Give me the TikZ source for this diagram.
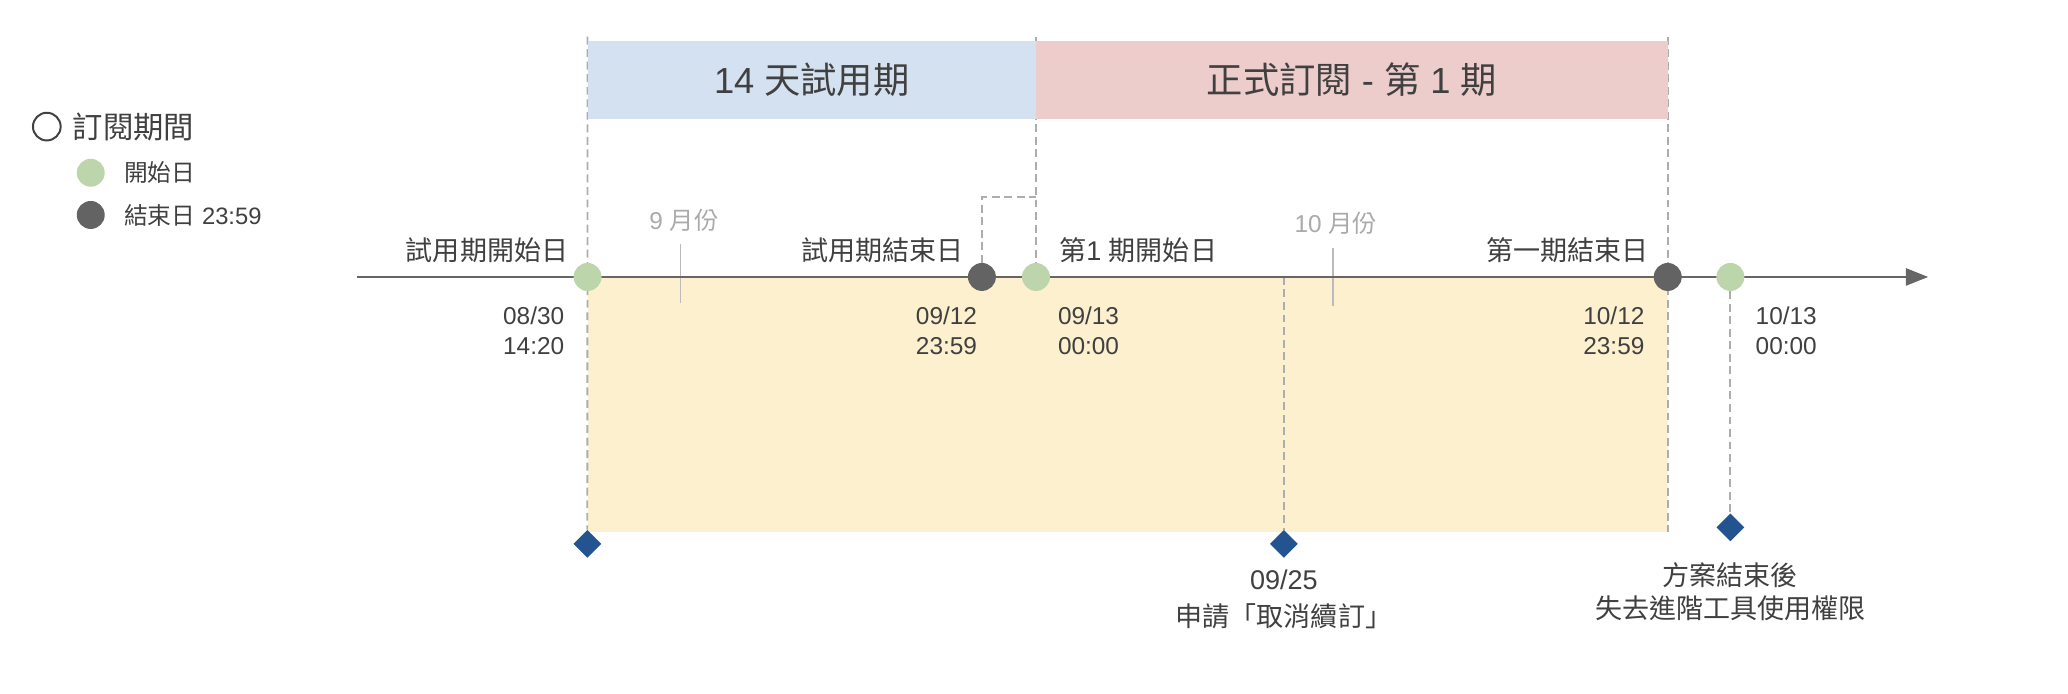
\documentclass[tikz,border=0pt]{standalone}
\usepackage{fontspec}
\setmainfont{Liberation Sans}
\newfontfamily\cjk{Noto Sans CJK TC}
\usetikzlibrary{shapes.geometric,arrows.meta,backgrounds}
\definecolor{txtc}{HTML}{404040}
\definecolor{monc}{HTML}{AAAAAA}
\definecolor{tickc}{HTML}{BBBBBB}
\definecolor{dashc}{HTML}{ADADAD}
\definecolor{linec}{HTML}{666666}
\definecolor{greenc}{HTML}{BCD5AB}
\definecolor{darkc}{HTML}{636363}
\definecolor{diac}{HTML}{24548F}
\definecolor{bluec}{HTML}{D4E1F0}
\definecolor{pinkc}{HTML}{ECCDCB}
\definecolor{yellc}{HTML}{FCF0CF}
\newcommand\myfs[2]{\fontsize{#1}{#2}\selectfont}
\tikzset{
  txt/.style={text=txtc, inner sep=0pt},
  lbl/.style={txt, font=\myfs{20.5}{24}},
  datetxt/.style={txt, font=\myfs{18.5}{22.7}},
  bottxt/.style={txt, align=center, font=\myfs{20.5}{27.5}},
  montxt/.style={text=monc, inner sep=0pt, font=\myfs{18.5}{22}},
  legtxt/.style={txt, font=\myfs{18}{22}},
  dotg/.style={circle, fill=greenc, minimum size=21.2pt, inner sep=0pt},
  dotd/.style={circle, fill=darkc, minimum size=21.2pt, inner sep=0pt},
  dia/.style={diamond, fill=diac, minimum width=21.2pt, minimum height=21.2pt, inner sep=0pt},
  gline/.style={draw=dashc, line width=1.4pt, dash pattern=on 6pt off 3.5pt},
  tick/.style={draw=tickc, line width=1.4pt},
  period/.style={minimum height=59.7pt, inner sep=0pt, text=txtc, font=\myfs{27.5}{32}},
}
\begin{document}
\begin{tikzpicture}[x=1pt,y=-1pt]
\useasboundingbox (0,0) rectangle (1568,526);

% legend
\node[circle, draw=txtc, line width=1.5pt, minimum size=21pt, inner sep=0pt] (legring) at (35.5,96) {};
\node[txt, anchor=west, font=\myfs{23}{27}] (legtitle) at (55,96) {\cjk 訂閱期間};
\node[dotg] (legg) at (68.8,131) {};
\node[legtxt, anchor=west] (leggt) at (94,131) {\cjk 開始日};
\node[dotd] (legd) at (68.8,163) {};
\node[legtxt, anchor=west] (legdt) at (94,163) {{\cjk 結束日} 23:59};

% periods
\node[period, fill=bluec, minimum width=340pt] (trial) at (615.5,60.65) {14 {\cjk 天試用期}};
\node[period, fill=pinkc, minimum width=479pt] (paid) at (1025,60.65) {{\cjk 正式訂閱} - {\cjk 第} 1 {\cjk 期}};

% timeline points
\node[dotg] (pA) at (445.5,210) {};
\node[dotd] (pB) at (744.5,210) {};
\node[dotg] (pC) at (785.5,210) {};
\node[dotd] (pD) at (1264.5,210) {};
\node[dotg] (pE) at (1312,210) {};
\coordinate (pF) at (973.5,210);

% diamonds
\node[dia] (dA) at (445.3,412.4) {};
\node[dia] (dF) at (973.5,412.4) {};
\node[dia] (dE) at (1312,399.8) {};

% helper coordinates
\coordinate (tA) at (445.5,27.8);
\coordinate (tC) at (785.5,27.8);
\coordinate (tD) at (1264.5,27.8);
\coordinate (bD) at (1264.5,403);
\coordinate (brk) at (744.5,149.6);
\coordinate (brk2) at (785.5,149.6);
\coordinate (tl0) at (271,210);
\coordinate (tl1) at (1462,210);
\coordinate (m9a) at (516,185);
\coordinate (m9b) at (516,230);
\coordinate (m10a) at (1010.4,187.8);
\coordinate (m10b) at (1010.4,232);

\begin{scope}[on background layer]
  \fill[yellc] (pA) rectangle (bD);
  \draw[gline] (tA) -- (dA.north);
  \draw[gline] (tC) -- (pC);
  \draw[gline] (tD) -- (bD);
  \draw[gline] (pF) -- (dF.north);
  \draw[gline] (pE) -- (dE.north);
  \draw[gline] (pB) -- (brk) -- (brk2);
  \draw[tick] (m9a) -- (m9b);
  \draw[tick] (m10a) -- (m10b);
  \draw[draw=linec, line width=1.8pt, -{Triangle[length=17pt,width=13pt]}] (tl0) -- (tl1);
\end{scope}

% month labels
\node[montxt] (mon9) at (518.6,167) {9 {\cjk 月份}};
\node[montxt] (mon10) at (1013,169) {10 {\cjk 月份}};

% labels above timeline
\node[lbl, anchor=east] (lA) at (431,190) {\cjk 試用期開始日};
\node[lbl, anchor=east] (lB) at (731,190) {\cjk 試用期結束日};
\node[lbl, anchor=west] (lC) at (803,190) {{\cjk 第}1 {\cjk 期開始日}};
\node[lbl, anchor=east] (lD) at (1250,190) {\cjk 第一期結束日};

% dates below timeline
\node[datetxt, anchor=east, align=right] (dtA) at (428,250.5) {08/30\\14:20};
\node[datetxt, anchor=east, align=right] (dtB) at (741,250.5) {09/12\\23:59};
\node[datetxt, anchor=west, align=left] (dtC) at (802,250.5) {09/13\\00:00};
\node[datetxt, anchor=east, align=right] (dtD) at (1247,250.5) {10/12\\23:59};
\node[datetxt, anchor=west, align=left] (dtE) at (1331,250.5) {10/13\\00:00};

% bottom annotations
\node[bottxt] (cancel) at (973.5,454.5) {09/25\\{\cjk 申請「取消續訂」}};
\node[bottxt, font=\myfs{20.5}{25}] (after) at (1312,448.5) {{\cjk 方案結束後}\\{\cjk 失去進階工具使用權限}};
\end{tikzpicture}
\end{document}
